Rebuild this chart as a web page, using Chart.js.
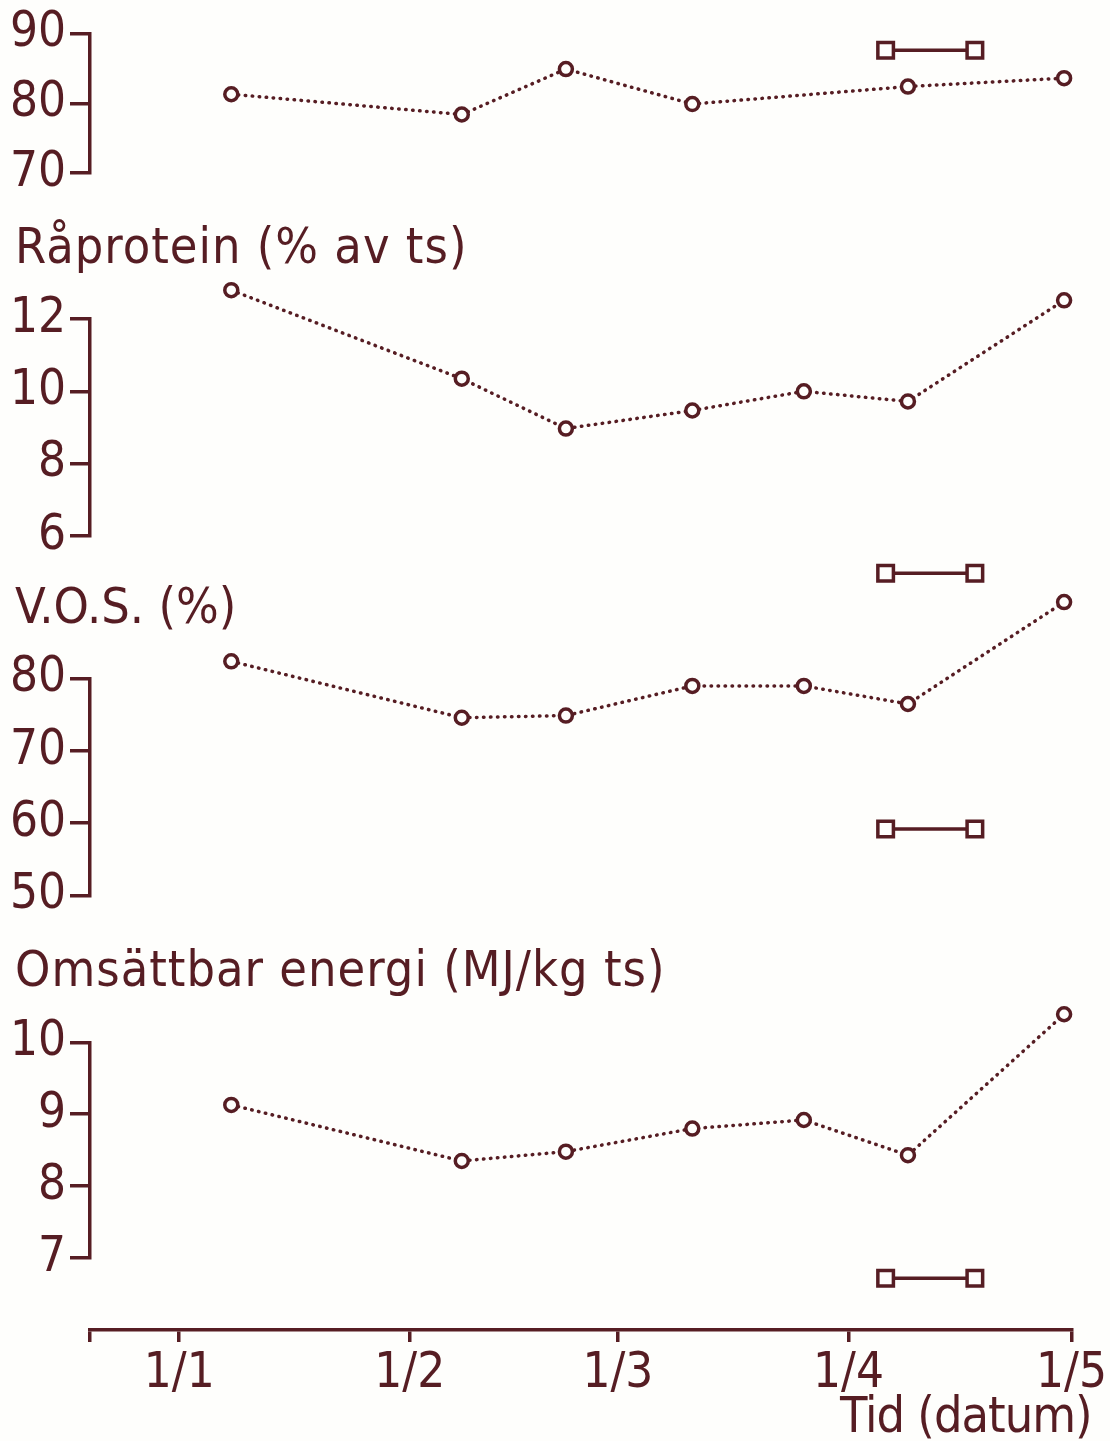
<!DOCTYPE html>
<html>
<head>
<meta charset="utf-8">
<script src="https://cdn.jsdelivr.net/npm/chart.js@4"></script>
<style>
  html, body { margin: 0; padding: 0; background: #fefefc; }
  #wrap { width: 1110px; height: 1441px; }
</style>
</head>
<body>
<div id="wrap"><canvas id="feedChart" width="1110" height="1441"></canvas></div>
<script>
// x = days after 1 January
const sampleDays = [7, 38, 52, 69, 84, 98, 119];
const ringDays = [7, 38, 52, 69, 98, 119];   // top panel has no point at day 84
const rangeDays = [95, 107];

const xTickDays = [0, 31, 59, 90, 120];
const xTickLabels = ['1/1', '1/2', '1/3', '1/4', '1/5'];

const topValues = [81.3, 78.4, 84.9, 79.9, 82.4, 83.6];
const topRange = [87.6, 87.6];
const proteinValues = [12.8, 10.35, 8.97, 9.47, 10.0, 9.72, 12.52];
const vosValues = [82.4, 74.6, 74.9, 79.0, 79.0, 76.5, 90.6];
const vosRangeHigh = [94.6, 94.6];
const vosRangeLow = [59.2, 59.2];
const energyValues = [9.13, 8.35, 8.48, 8.8, 8.92, 8.43, 10.39];
const energyRange = [6.72, 6.72];

const panelTitles = ['Råprotein (% av ts)', 'V.O.S. (%)', 'Omsättbar energi (MJ/kg ts)'];
const xTitle = 'Tid (datum)';

const ink = '#561d23';
const paper = '#fefefc';
const tickFont = { family: "'DejaVu Sans Condensed', 'DejaVu Sans', sans-serif", size: 49 };
const titleFont = "50px 'DejaVu Sans Condensed', 'DejaVu Sans', sans-serif";

const pts = (xs, ys) => xs.map((x, i) => ({ x: x, y: ys[i] }));

function dotted(xs, ys, axis) {
    return {
        data: pts(xs, ys), yAxisID: axis, clip: false,
        borderColor: ink, borderWidth: 3.5, borderDash: [0.5, 6.5], borderCapStyle: 'round',
        pointStyle: 'circle', pointRadius: 6.5, pointBorderWidth: 3.5,
        pointBackgroundColor: paper, pointBorderColor: ink
    };
}
function bar(ys, axis) {
    return {
        data: pts(rangeDays, ys), yAxisID: axis, clip: false,
        borderColor: ink, borderWidth: 3.5,
        pointStyle: 'rect', pointRadius: 11, pointBorderWidth: 3.5,
        pointBackgroundColor: paper, pointBorderColor: ink
    };
}

function panelAxis(min, max, step, weight) {
    return {
        type: 'linear', position: 'left', stack: 'panels', stackWeight: weight,
        min: min, max: max,
        ticks: { stepSize: step, autoSkip: false, color: ink, font: tickFont, padding: 4 },
        grid: { drawOnChartArea: false, drawTicks: true, tickLength: 20, color: ink, lineWidth: 3.5 },
        border: { display: true, color: ink, width: 3.5 },
        afterFit: s => { s.width = 90; }
    };
}
function spacer(weight) {
    return {
        type: 'linear', position: 'left', stack: 'panels', stackWeight: weight,
        min: 0, max: 1,
        ticks: { display: false }, grid: { display: false }, border: { display: false },
        afterFit: s => { s.width = 90; }
    };
}

// panel titles and the x axis title, placed from the scales
const labelsPlugin = {
    id: 'panelLabels',
    afterDraw(chart) {
        const ctx = chart.ctx;
        ctx.save();
        ctx.fillStyle = ink;
        ctx.font = titleFont;
        ctx.textBaseline = 'alphabetic';
        ctx.textAlign = 'left';
        ['y2', 'y3', 'y4'].forEach((id, i) => {
            ctx.letterSpacing = i === 1 ? '0px' : '1px';
            ctx.fillText(panelTitles[i], 15, chart.scales[id].top - 56);
        });
        ctx.letterSpacing = '-1px';
        ctx.textAlign = 'right';
        ctx.fillText(xTitle, chart.scales.x.right + 20, chart.scales.x.bottom - 9);
        ctx.restore();
    }
};

new Chart(document.getElementById('feedChart'), {
    type: 'line',
    data: {
        datasets: [
            dotted(ringDays, topValues, 'y1'),
            bar(topRange, 'y1'),
            dotted(sampleDays, proteinValues, 'y2'),
            dotted(sampleDays, vosValues, 'y3'),
            bar(vosRangeHigh, 'y3'),
            bar(vosRangeLow, 'y3'),
            dotted(sampleDays, energyValues, 'y4'),
            bar(energyRange, 'y4')
        ]
    },
    options: {
        responsive: false,
        animation: false,
        events: [],
        layout: { padding: { top: 32, right: 38, left: 0, bottom: 0 } },
        plugins: { legend: { display: false }, tooltip: { enabled: false } },
        scales: {
            x: {
                type: 'linear', position: 'bottom', min: -12, max: 120,
                afterBuildTicks: s => { s.ticks = [s.min].concat(xTickDays).map(v => ({ value: v })); },
                ticks: {
                    color: ink, font: tickFont, padding: 3, maxRotation: 0, autoSkip: false,
                    callback: v => { const i = xTickDays.indexOf(v); return i < 0 ? '' : xTickLabels[i]; }
                },
                grid: { drawOnChartArea: false, drawTicks: true, tickLength: 12, color: ink, lineWidth: 3.5 },
                border: { display: true, color: ink, width: 3.5 },
                afterFit: s => { s.height = 111; }
            },
            // left stack is laid out bottom-up: last entry ends on top
            g4: spacer(72),
            y4: panelAxis(7, 10, 1, 216),
            g3: spacer(147),
            y3: panelAxis(50, 80, 10, 217),
            g2: spacer(143),
            y2: panelAxis(6, 12, 2, 217),
            g1: spacer(146),
            y1: panelAxis(70, 90, 10, 140)
        }
    },
    plugins: [labelsPlugin]
});
</script>
</body>
</html>
